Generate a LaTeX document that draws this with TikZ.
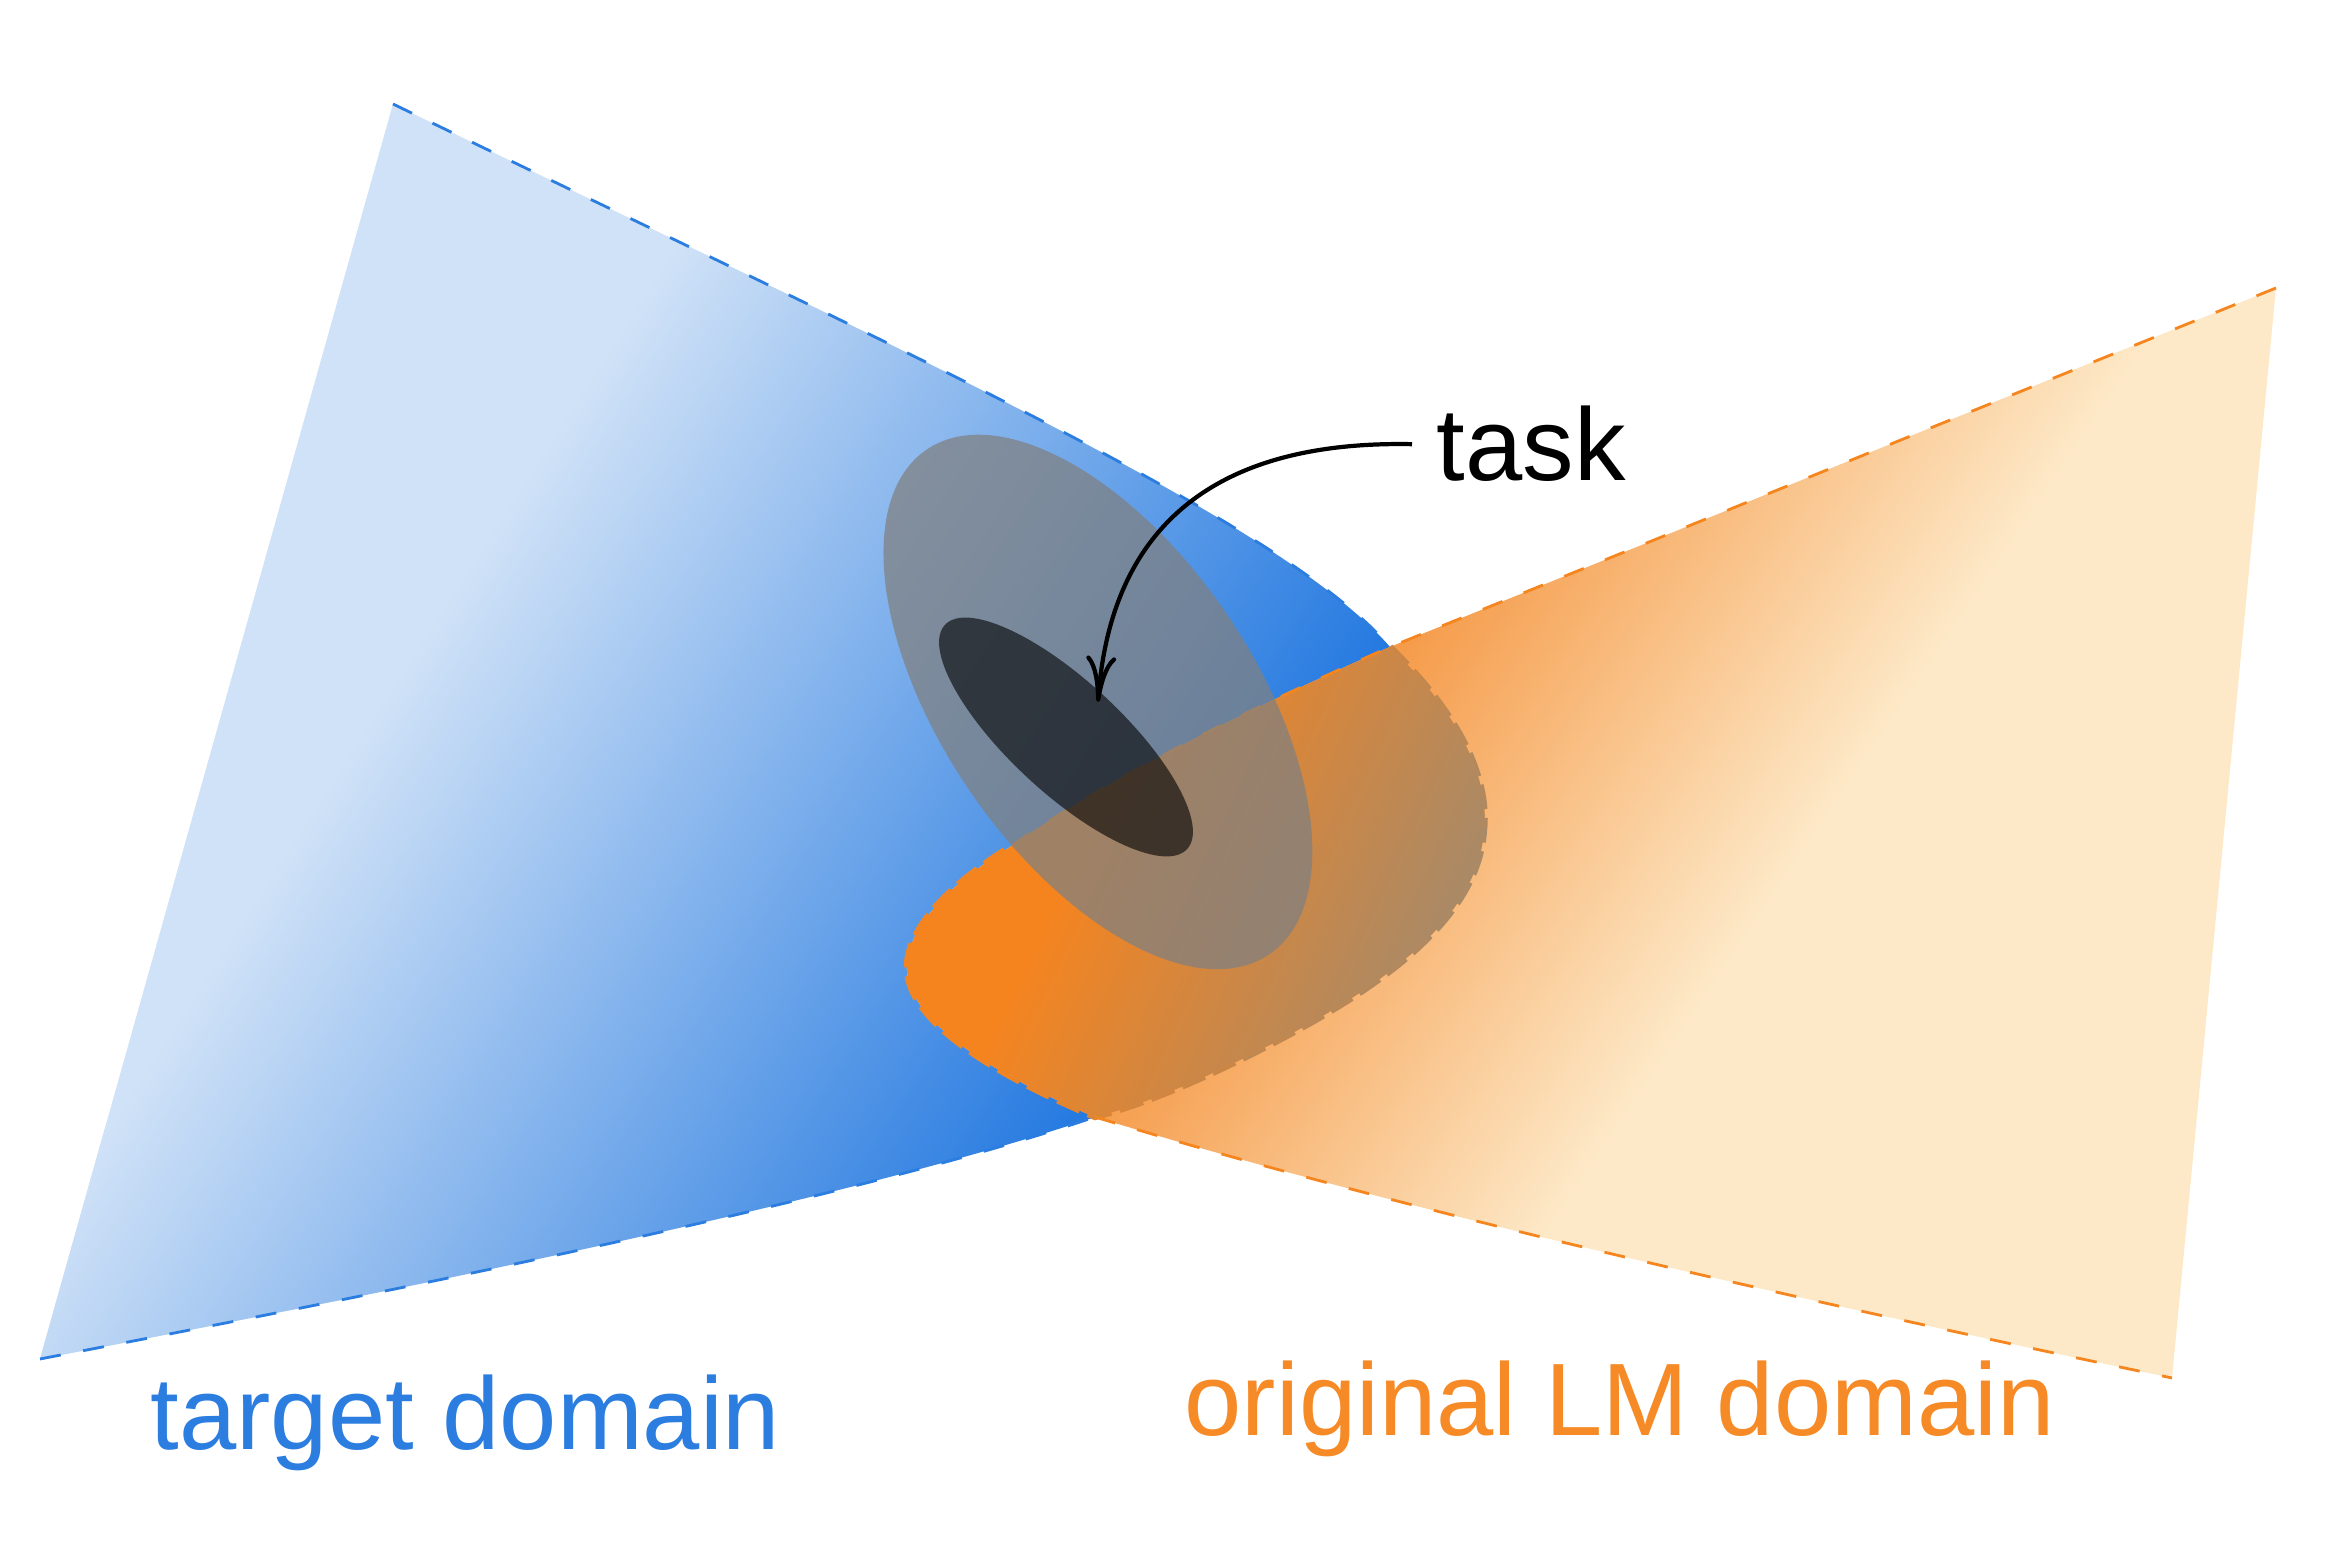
\documentclass[tikz,border=0pt]{standalone}
\usepackage{fontspec}
\setmainfont{Liberation Sans}
\usetikzlibrary{arrows.meta}
\definecolor{bluelight}{HTML}{D0E2F7}
\definecolor{bluedark}{HTML}{2479E0}
\definecolor{blueline}{HTML}{2B7DE0}
\definecolor{orangedark}{HTML}{F59A48}
\definecolor{orangelight}{HTML}{FDE9C8}
\definecolor{orangeline}{HTML}{F5861F}
\definecolor{bloborange}{HTML}{F5841F}
\definecolor{blobgray}{HTML}{A48A6C}
\definecolor{labelorange}{HTML}{F58A26}
\tikzset{
    edgeline/.style={
        dash pattern=on 6pt off 6.5pt,
        line width=0.8pt},
    rimline/.style={
        dash pattern=on 7pt off 2.5pt,
        line width=1.8pt},
    taskregion/.style={
        fill=gray,
        fill opacity=0.73},
    taskcore/.style={
        fill=black,
        fill opacity=0.6},
    domaintext/.style={
        inner sep=0pt,
        anchor=base west,
        font=\fontsize{29.3}{35}\selectfont},
    tasktext/.style={
        inner xsep=0.24cm,
        inner ysep=0pt,
        anchor=base west,
        font=\fontsize{29.3}{35}\selectfont},
    taskarrow/.style={
        -{To[length=13pt,width=8.5pt]},
        line width=1.2pt}}

\begin{document}
\begin{tikzpicture}
    \useasboundingbox (0,0) rectangle (23.28,15.56);

    % corners of the two domains
    \coordinate (B1) at (3.93,14.52);
    \coordinate (B2) at (0.40,1.97);
    \coordinate (O1) at (22.76,12.68);
    \coordinate (O2) at (21.72,1.78);
    \coordinate (Tx) at (13.90,9.09);
    \coordinate (Bx) at (10.95,4.39);
    \coordinate (L1) at (10.10,7.09);
    \coordinate (taskcenter) at (10.98,8.54);

    % target domain
    \begin{scope}
        \clip (B1) .. controls (9.00,12.06) and (12.80,10.36) .. (Tx) -- (Bx)
            .. controls (8.50,3.56) and (4.00,2.66) .. (B2) -- cycle;
        \fill[bluelight] (0,0) rectangle (23.28,15.56);
        \begin{scope}[transform canvas={shift={(5.61,11.36)},rotate=-32.75}]
            \shade[left color=bluelight,right color=bluedark] (0,-15) rectangle (8.2,15);
            \fill[bluedark] (8.2,-15) rectangle (16,15);
        \end{scope}
    \end{scope}
    \draw[edgeline,blueline] (B1) .. controls (9.00,12.06) and (12.80,10.36) .. (Tx);
    \draw[edgeline,blueline] (B2) .. controls (4.00,2.66) and (8.50,3.56) .. (Bx);

    % original LM domain
    \begin{scope}
        \clip (O1) -- (Tx) .. controls (12.70,8.56) and (11.20,7.86) .. (L1)
            .. controls (9.40,6.66) and (9.05,6.21) .. (9.07,5.86)
            .. controls (9.09,5.46) and (9.60,4.96) .. (Bx)
            .. controls (14.00,3.46) and (18.00,2.56) .. (O2) -- cycle;
        \fill[orangelight] (0,0) rectangle (23.28,15.56);
        \begin{scope}[transform canvas={shift={(13.90,9.09)},rotate=-34}]
            \fill[orangedark] (-10,-15) rectangle (0,15);
            \shade[left color=orangedark,right color=orangelight] (0,-15) rectangle (4.6,15);
        \end{scope}
    \end{scope}

    % rim of the overlap
    \foreach \i in {0,...,9}{
        \pgfmathtruncatemacro{\mix}{95-10*\i}
        \pgfmathsetmacro{\xa}{\i==0 ? -10 : 0.395*\i}
        \pgfmathsetmacro{\xb}{\i==9 ? 20 : 0.395*(\i+1)}
        \begin{scope}[shift={(9.96,5.33)},rotate=-25]
            \clip (\xa,-10) rectangle (\xb,10);
            \begin{scope}[rotate=25,shift={(-9.96,-5.33)}]
                \draw[rimline,draw=bloborange!\mix!blobgray] (Tx)
                    .. controls (14.50,8.51) and (14.90,7.86) .. (14.84,7.26)
                    .. controls (14.78,6.36) and (13.80,5.66) .. (12.50,5.01)
                    .. controls (11.80,4.66) and (11.30,4.48) .. (Bx)
                    .. controls (9.60,4.96) and (9.09,5.46) .. (9.07,5.86)
                    .. controls (9.05,6.21) and (9.40,6.66) .. (L1);
            \end{scope}
        \end{scope}
    }
    \begin{scope}
        \clip (L1) .. controls (11.20,7.86) and (12.70,8.56) .. (Tx)
            .. controls (14.50,8.51) and (14.90,7.86) .. (14.84,7.26)
            .. controls (14.78,6.36) and (13.80,5.66) .. (12.50,5.01)
            .. controls (11.80,4.66) and (11.30,4.48) .. (Bx)
            .. controls (9.60,4.96) and (9.09,5.46) .. (9.07,5.86)
            .. controls (9.05,6.21) and (9.40,6.66) .. (L1) -- cycle;
        \fill[bloborange] (0,0) rectangle (23.28,15.56);
        \begin{scope}[transform canvas={shift={(9.96,5.33)},rotate=-25}]
            \shade[left color=bloborange,right color=blobgray] (0,-10) rectangle (3.95,10);
            \fill[blobgray] (3.95,-10) rectangle (12,10);
        \end{scope}
    \end{scope}

    \draw[edgeline,orangeline] (O1) -- (Tx) .. controls (12.70,8.56) and (11.20,7.86) .. (L1);
    \draw[edgeline,orangeline] (Bx) .. controls (14.00,3.46) and (18.00,2.56) .. (O2);

    % task
    \fill[taskregion,rotate around={-55.85:(taskcenter)}] (taskcenter) ellipse (3.05 and 1.56);
    \fill[taskcore,rotate around={-42.8:(10.66,8.19)}] (10.66,8.19) ellipse (1.65 and 0.56);

    \node[tasktext] (task) at (14.12,10.75) {task};
    \draw[taskarrow] (task.west) .. controls (12.00,11.16) and (11.10,10.16) .. (taskcenter);

    \node[domaintext,text=blueline] (target) at (1.50,1.06) {target domain};
    \node[domaintext,text=labelorange] (original) at (11.84,1.20) {original LM domain};
\end{tikzpicture}
\end{document}
